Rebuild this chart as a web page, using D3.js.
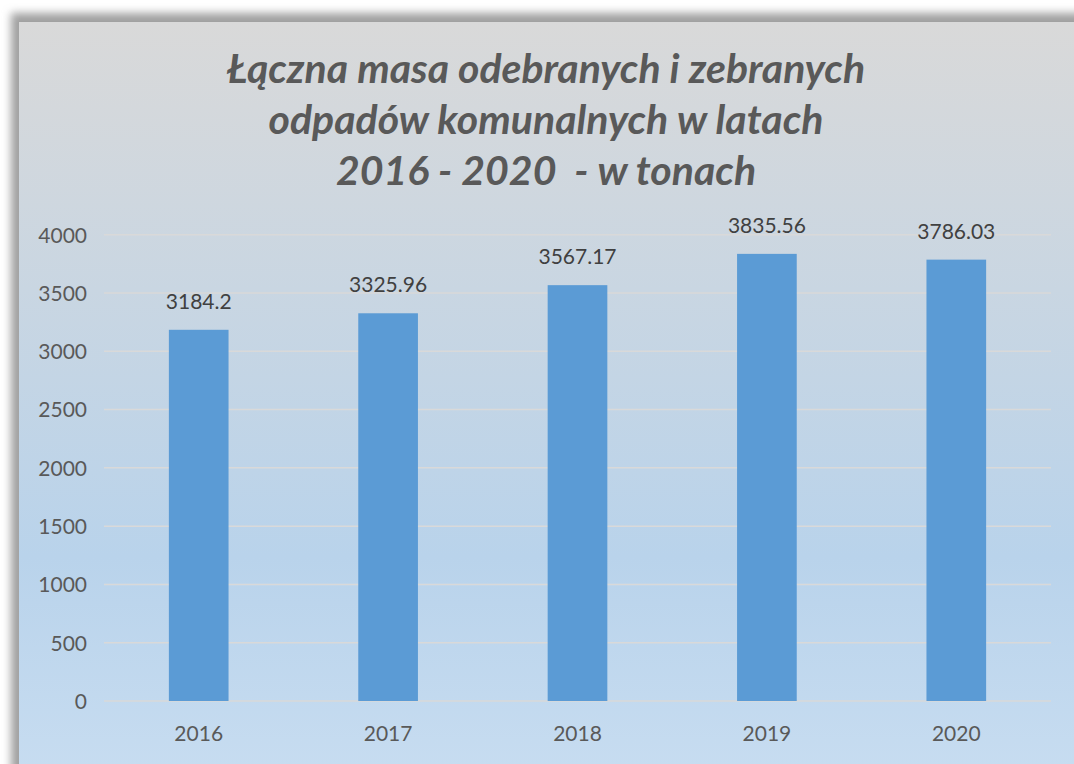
<!DOCTYPE html>
<html>
<head>
<meta charset="utf-8">
<script src="https://cdn.jsdelivr.net/npm/d3@7"></script>
<style>
  body { margin: 0; background: #ffffff; }
  text { font-family: Lato, "Open Sans", sans-serif; }
</style>
</head>
<body>
<div id="chart"></div>
<script>
// data
const years = ["2016", "2017", "2018", "2019", "2020"];
const tonnes = [3184.2, 3325.96, 3567.17, 3835.56, 3786.03];
const valueLabels = ["3184.2", "3325.96", "3567.17", "3835.56", "3786.03"];
const yTicks = [0, 500, 1000, 1500, 2000, 2500, 3000, 3500, 4000];
const titleLines = [
    "Łączna masa odebranych i zebranych",
    "odpadów komunalnych w latach",
    "2016 - 2020  - w tonach"
];

const W = 1074, H = 764;
const plot = {left: 104, right: 1051, top: 234.7, bottom: 701};

const svg = d3.select("#chart")
    .append("svg")
    .attr("width", W)
    .attr("height", H);

const defs = svg.append("defs");

// background gradient (gray on top, light blue towards the bottom)
const grad = defs.append("linearGradient")
    .attr("id", "bg")
    .attr("x1", 0).attr("y1", 0)
    .attr("x2", 0).attr("y2", 1);
grad.append("stop").attr("offset", "0%").attr("stop-color", "#d9d9d9");
grad.append("stop").attr("offset", "70%").attr("stop-color", "#b9d3eb");
grad.append("stop").attr("offset", "100%").attr("stop-color", "#c8ddf1");

const blur = defs.append("filter")
    .attr("id", "shadow")
    .attr("x", "-10%").attr("y", "-10%")
    .attr("width", "120%").attr("height", "120%");
blur.append("feGaussianBlur").attr("stdDeviation", 4);

// shadow + panel
svg.append("rect")
    .attr("x", 11).attr("y", 13)
    .attr("width", W + 40).attr("height", H + 40)
    .attr("fill", "#a0a0a0")
    .attr("filter", "url(#shadow)");
svg.append("rect")
    .attr("x", 19).attr("y", 22)
    .attr("width", W).attr("height", H)
    .attr("fill", "url(#bg)");

// title
svg.append("text")
    .attr("x", 546)
    .attr("text-anchor", "middle")
    .style("font-size", "41px")
    .style("font-weight", "bold")
    .style("font-style", "italic")
    .style("fill", "#595959")
    .style("white-space", "pre")
    .selectAll("tspan")
    .data(titleLines)
    .enter()
    .append("tspan")
    .attr("x", 546)
    .attr("y", function (d, i) { return [83, 134, 185][i]; })
    .text(function (d) { return d; });

// scales
const x = d3.scaleBand()
    .domain(years)
    .range([plot.left, plot.right])
    .paddingInner(0.685)
    .paddingOuter(0.3425);

const y = d3.scaleLinear()
    .domain([0, 4000])
    .range([plot.bottom, plot.top]);

// gridlines
svg.append("g")
    .selectAll("line")
    .data(yTicks)
    .enter()
    .append("line")
    .attr("x1", plot.left)
    .attr("x2", plot.right)
    .attr("y1", function (d) { return y(d); })
    .attr("y2", function (d) { return y(d); })
    .style("stroke", "#d9d9d9")
    .style("stroke-width", 1.5);

// y axis
const yAxis = svg.append("g")
    .attr("transform", "translate(" + (plot.left - 17) + ",0)")
    .call(d3.axisLeft(y).tickValues(yTicks).tickFormat(d3.format("d")).tickSize(0).tickPadding(0));
yAxis.select(".domain").remove();
yAxis.selectAll("text")
    .style("font-size", "21px")
    .style("fill", "#595959")
    .attr("dy", "0.35em");

// x axis
const xAxis = svg.append("g")
    .attr("transform", "translate(0," + plot.bottom + ")")
    .call(d3.axisBottom(x).tickSize(0).tickPadding(0));
xAxis.select(".domain").remove();
xAxis.selectAll("text")
    .style("font-size", "21px")
    .style("fill", "#595959")
    .attr("y", 40)
    .attr("dy", 0);

// bars
svg.append("g")
    .selectAll("rect")
    .data(tonnes)
    .enter()
    .append("rect")
    .attr("x", function (d, i) { return x(years[i]); })
    .attr("y", function (d) { return y(d); })
    .attr("width", x.bandwidth())
    .attr("height", function (d) { return y(0) - y(d); })
    .style("fill", "#5b9bd5");

// value labels
svg.append("g")
    .selectAll("text")
    .data(tonnes)
    .enter()
    .append("text")
    .attr("x", function (d, i) { return x(years[i]) + x.bandwidth() / 2; })
    .attr("y", function (d) { return y(d) - 21; })
    .attr("text-anchor", "middle")
    .style("font-size", "21px")
    .style("fill", "#404040")
    .text(function (d, i) { return valueLabels[i]; });
</script>
</body>
</html>
